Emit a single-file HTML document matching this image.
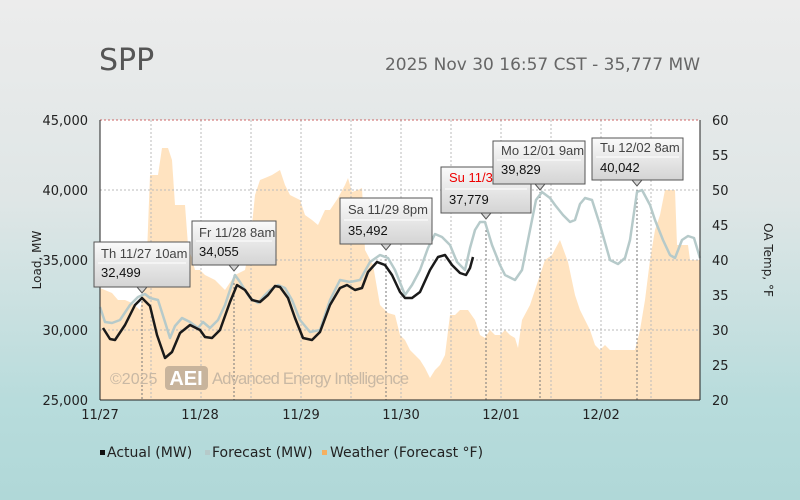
<!DOCTYPE html><html><head><style>html,body{margin:0;width:800px;height:500px;overflow:hidden}body{background:linear-gradient(#ececec 0%,#dfe6e6 40%,#b8dcdc 80%,#b0d8d8 100%);font-family:"Liberation Sans","DejaVu Sans",sans-serif}svg{display:block}</style></head><body>
<svg width="800" height="500" xmlns="http://www.w3.org/2000/svg" font-family="DejaVu Sans, Liberation Sans, sans-serif">
<defs><linearGradient id="tg" x1="0" y1="0" x2="0" y2="1"><stop offset="0" stop-color="#fafafa"/><stop offset="1" stop-color="#d4d4d4"/></linearGradient></defs>
<text x="99" y="70" font-size="30" fill="#555">SPP</text>
<text x="700" y="70" font-size="17" fill="#666" text-anchor="end">2025 Nov 30 16:57 CST - 35,777 MW</text>
<rect x="100" y="120" width="600" height="280" fill="#fff"/>
<polygon fill="#ffe3c0" points="100,400 100,288 112,293 118,300 125,300 132,303 140,310 146,280 150,175 158,175 162,148 168,148 172,160 175,205 185,205 188,245 195,270 200,270 205,275 215,280 225,290 235,275 245,270 250,245 255,195 260,180 265,178 272,175 280,170 285,185 290,195 300,200 305,215 312,220 318,225 325,210 330,210 338,198 345,185 348,178 352,192 358,190 362,188 365,250 373,265 380,305 388,313 395,315 400,335 405,340 410,350 415,355 420,360 425,368 430,378 435,370 440,365 445,355 450,315 455,315 460,310 468,310 475,320 480,335 485,338 490,330 495,335 500,335 505,330 510,335 515,338 518,348 522,320 530,305 535,290 545,260 552,255 560,240 568,262 575,295 580,310 590,330 595,345 600,350 605,345 610,350 625,350 635,350 640,330 645,300 650,260 655,230 660,215 665,190 670,190 675,190 677,245 683,245 688,245 690,260 700,260 700,400"/>
<g stroke="#bbb" stroke-dasharray="2,2" stroke-width="1">
<line x1="100" y1="330" x2="700" y2="330"/><line x1="100" y1="260" x2="700" y2="260"/><line x1="100" y1="190" x2="700" y2="190"/>
<line x1="151" y1="120" x2="151" y2="400"/><line x1="201" y1="120" x2="201" y2="400"/><line x1="251" y1="120" x2="251" y2="400"/><line x1="301" y1="120" x2="301" y2="400"/><line x1="351" y1="120" x2="351" y2="400"/><line x1="401" y1="120" x2="401" y2="400"/><line x1="451" y1="120" x2="451" y2="400"/><line x1="501" y1="120" x2="501" y2="400"/><line x1="551" y1="120" x2="551" y2="400"/><line x1="601" y1="120" x2="601" y2="400"/><line x1="651" y1="120" x2="651" y2="400"/>
</g>
<g stroke="#777" stroke-dasharray="2,2"><line x1="142" y1="297" x2="142" y2="400"/><line x1="234" y1="275" x2="234" y2="400"/><line x1="386" y1="255" x2="386" y2="400"/><line x1="486" y1="222" x2="486" y2="400"/><line x1="540" y1="192" x2="540" y2="400"/><line x1="637" y1="190" x2="637" y2="400"/></g>
<line x1="100" y1="120" x2="700" y2="120" stroke="#c66" stroke-dasharray="2,2"/>
<text x="110" y="384" font-size="16" fill="#c8b8a4" font-family="Liberation Sans, sans-serif">©2025</text>
<rect x="165" y="366" width="43" height="24" rx="4" fill="#c8b49c"/>
<text x="186" y="385" font-size="20" fill="#fff" text-anchor="middle" font-weight="bold" font-family="Liberation Sans, sans-serif">AEI</text>
<text x="212" y="384" font-size="16.5" fill="#c8b8a4" font-family="Liberation Sans, sans-serif" textLength="197">Advanced Energy Intelligence</text>
<polyline fill="none" stroke="#b6caca" stroke-width="2.5" stroke-linejoin="round" points="100,307 105,322 112,323 120,320 130,305 138,297 145,294 150,298 158,300 165,322 170,338 175,326 182,318 190,322 198,328 203,322 210,328 218,320 225,305 230,290 235,275 240,282 250,298 258,303 265,295 270,290 278,285 285,288 292,300 300,320 310,332 320,330 330,300 340,280 350,282 360,280 370,262 380,255 388,258 395,270 405,295 412,285 420,270 428,248 435,234 442,237 450,245 457,262 465,270 470,248 475,230 480,222 485,222 492,245 500,265 505,275 515,280 522,270 530,230 536,200 542,192 550,198 555,205 563,215 570,222 575,220 580,204 585,198 592,200 600,225 610,260 618,264 625,258 630,240 637,192 642,190 650,205 655,220 663,240 670,255 675,258 682,240 688,236 694,238 700,258"/>
<polyline fill="none" stroke="#1a1a1a" stroke-width="2.5" stroke-linejoin="round" points="103,328 110,339 115,340 125,325 135,305 142,298 150,306 157,335 165,358 172,352 180,333 190,325 200,330 205,337 212,338 220,330 230,302 237,285 245,290 252,300 260,302 268,295 275,286 280,287 288,298 295,318 303,338 312,340 320,332 330,305 340,288 347,285 355,290 362,288 368,272 377,262 385,265 392,275 400,292 405,298 412,298 420,292 430,270 438,257 445,255 452,265 460,273 466,275 470,268 473,257"/>
<line x1="100" y1="120" x2="100" y2="400" stroke="#222"/><line x1="100" y1="400" x2="700" y2="400" stroke="#222"/><line x1="700" y1="120" x2="700" y2="400" stroke="#222"/>
<g font-size="13" fill="#222" text-anchor="end"><text x="88" y="125">45,000</text><text x="88" y="195">40,000</text><text x="88" y="265">35,000</text><text x="88" y="335">30,000</text><text x="88" y="405">25,000</text></g>
<g font-size="13" fill="#222"><text x="712" y="125">60</text><text x="712" y="160">55</text><text x="712" y="195">50</text><text x="712" y="230">45</text><text x="712" y="265">40</text><text x="712" y="300">35</text><text x="712" y="335">30</text><text x="712" y="370">25</text><text x="712" y="405">20</text></g>
<g font-size="13" fill="#222" text-anchor="middle"><text x="100" y="419">11/27</text><text x="200" y="419">11/28</text><text x="301" y="419">11/29</text><text x="401" y="419">11/30</text><text x="501" y="419">12/01</text><text x="601" y="419">12/02</text></g>
<text transform="translate(41,260) rotate(-90)" font-size="12" fill="#222" text-anchor="middle">Load, MW</text>
<text transform="translate(764,260) rotate(90)" font-size="12" fill="#222" text-anchor="middle">OA Temp, °F</text>
<g font-size="13" font-family="Liberation Sans, sans-serif">
<g><rect x="94" y="242" width="96" height="45" fill="url(#tg)" stroke="#555"/><polygon points="137,287 147,287 142,293" fill="#d4d4d4" stroke="#555"/><line x1="98" y1="263" x2="186" y2="263" stroke="#fff"/><text x="101" y="258" fill="#444">Th 11/27 10am</text><text x="101" y="277" fill="#111">32,499</text></g>
<g><rect x="192" y="221" width="84" height="44" fill="url(#tg)" stroke="#555"/><polygon points="229,265 239,265 234,271" fill="#d4d4d4" stroke="#555"/><line x1="196" y1="241" x2="272" y2="241" stroke="#fff"/><text x="199" y="237" fill="#444">Fr 11/28 8am</text><text x="199" y="256" fill="#111">34,055</text></g>
<g><rect x="340" y="198" width="92" height="46" fill="url(#tg)" stroke="#555"/><polygon points="381,244 391,244 386,250" fill="#d4d4d4" stroke="#555"/><line x1="344" y1="220" x2="428" y2="220" stroke="#fff"/><text x="348" y="214" fill="#444">Sa 11/29 8pm</text><text x="348" y="235" fill="#111">35,492</text></g>
<g><rect x="441" y="167" width="90" height="46" fill="url(#tg)" stroke="#555"/><polygon points="481,213 491,213 486,219" fill="#d4d4d4" stroke="#555"/><line x1="445" y1="189" x2="527" y2="189" stroke="#fff"/><text x="449" y="182" fill="#e00">Su 11/30 4pm</text><text x="449" y="204" fill="#111">37,779</text></g>
<g><rect x="493" y="141" width="92" height="43" fill="url(#tg)" stroke="#555"/><polygon points="535,184 545,184 540,190" fill="#d4d4d4" stroke="#555"/><line x1="497" y1="160" x2="581" y2="160" stroke="#fff"/><text x="501" y="155" fill="#444">Mo 12/01 9am</text><text x="501" y="174" fill="#111">39,829</text></g>
<g><rect x="592" y="138" width="91" height="42" fill="url(#tg)" stroke="#555"/><polygon points="632,180 642,180 637,186" fill="#d4d4d4" stroke="#555"/><line x1="596" y1="157" x2="679" y2="157" stroke="#fff"/><text x="600" y="152" fill="#444">Tu 12/02 8am</text><text x="600" y="172" fill="#111">40,042</text></g>
</g>
<g font-size="14" fill="#222"><rect x="100" y="450" width="5" height="5" fill="#111"/><text x="107" y="457">Actual (MW)</text><rect x="205" y="450" width="5" height="5" fill="#b6caca"/><text x="212" y="457">Forecast (MW)</text><rect x="322" y="450" width="5" height="5" fill="#f5b060"/><text x="330" y="457">Weather (Forecast °F)</text></g>
</svg></body></html>
